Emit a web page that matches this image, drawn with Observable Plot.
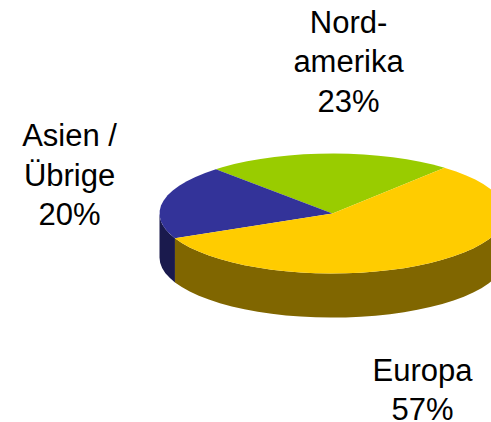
<!DOCTYPE html>
<html><head><meta charset="utf-8">
<style>html,body{margin:0;padding:0;background:#fff;overflow:hidden}svg{display:block;overflow:hidden}</style>
<script src="https://cdn.jsdelivr.net/npm/d3@7"></script>
<script src="https://cdn.jsdelivr.net/npm/@observablehq/plot@0.6"></script>
</head><body><div id="chart"></div>
<script>
// Data
const categories = ["Nordamerika", "Asien / Übrige", "Europa"];
const shares = [23, 20, 57];
const labels = ["Nord-\namerika\n23%", "Asien /\nÜbrige\n20%", "Europa\n57%"];
const topColors = ["#99CC00", "#333399", "#FFCC00"];
const sideColors = ["#4D6600", "#1A1A4D", "#806600"];

// Layout in pie units (radius = 1)
const startAngle = 49.6, stepDeg = 5, depth = 0.735;
const labelX = [0.0925, -1.52, 0.52], labelY = [2.567, 0.673, -2.905];

const rad = d => d * Math.PI / 180;
const arcAngles = (a0, a1) => {
  const out = [];
  for (let a = a0; a < a1; a += stepDeg) out.push(a);
  out.push(a1);
  return out;
};
const total = d3.sum(shares);
let cursor = startAngle;
const slices = categories.map((name, i) => {
  const a0 = cursor, a1 = cursor + shares[i] / total * 360;
  cursor = a1;
  return {name, a0, a1};
});

const topPts = slices.flatMap(s => [
  {name: s.name, x: 0, y: 0},
  ...arcAngles(s.a0, s.a1).map(a => ({name: s.name, x: Math.cos(rad(a)), y: Math.sin(rad(a))}))
]);
const sidePts = slices.flatMap(s => {
  const lo = Math.max(s.a0, 180), hi = Math.min(s.a1, 360);
  if (hi <= lo) return [];
  const arc = arcAngles(lo, hi);
  return [
    ...arc.map(a => ({name: s.name, x: Math.cos(rad(a)), y: Math.sin(rad(a))})),
    ...arc.slice().reverse().map(a => ({name: s.name, x: Math.cos(rad(a)), y: Math.sin(rad(a)) - depth}))
  ];
});
const sideColor = Object.fromEntries(categories.map((c, i) => [c, sideColors[i]]));
const labelRows = labels.map((text, i) => ({text, x: labelX[i], y: labelY[i]}));

const chart = Plot.plot({
  width: 491, height: 422,
  margin: 0,
  style: {fontFamily: "'Liberation Sans', Arial, sans-serif", background: "#fff"},
  x: {axis: null, domain: [-1, 1], range: [159, 505]},
  y: {axis: null, domain: [-1, 1], range: [273, 153]},
  color: {domain: categories, range: topColors},
  marks: [
    Plot.line(sidePts, {x: "x", y: "y", z: "name", fill: d => sideColor[d.name], stroke: "none", clip: "frame"}),
    Plot.line(topPts, {x: "x", y: "y", z: "name", fill: "name", stroke: "none", clip: "frame"}),
    Plot.text(labelRows, {x: "x", y: "y", text: "text", fontSize: 31, lineHeight: 1.28, fill: "#000", textAnchor: "middle", lineAnchor: "middle"})
  ]
});
document.getElementById("chart").append(chart);
</script></body></html>
